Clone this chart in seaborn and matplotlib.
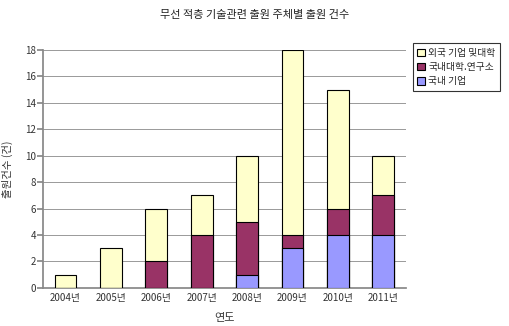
import matplotlib
matplotlib.use("Agg")
import matplotlib.pyplot as plt
import seaborn as sns
import pandas as pd
import numpy as np

years = ["2004년", "2005년", "2006년", "2007년", "2008년", "2009년", "2010년", "2011년"]
domestic = [0, 0, 0, 0, 1, 3, 4, 4]          # 국내 기업
univ = [0, 0, 2, 4, 4, 1, 2, 3]              # 국내대학.연구소
foreign = [1, 3, 4, 3, 5, 14, 9, 3]          # 외국 기업 및대학
series_names = ["외국 기업 및대학", "국내대학.연구소", "국내 기업"]
colors = ["#FFFFCC", "#993366", "#9999FF"]

sns.set_theme(style="white")
plt.rcParams['font.family'] = ['Noto Sans CJK KR', 'DejaVu Sans']

df = pd.DataFrame({"year": years, "dom": domestic, "univ": univ, "for": foreign})
df["l1"] = df["dom"]
df["l2"] = df["dom"] + df["univ"]
df["l3"] = df["l2"] + df["for"]

fig = plt.figure(figsize=(5.1, 3.26), dpi=100)
ax = fig.add_axes([0.084, 0.117, 0.712, 0.73])

for col, c, name in [("l3", colors[0], series_names[0]),
                     ("l2", colors[1], series_names[1]),
                     ("l1", colors[2], series_names[2])]:
    sns.barplot(data=df, x="year", y=col, color=c, saturation=1, width=0.48,
                edgecolor="black", linewidth=0.8, ax=ax, label=name, zorder=3)

ax.set_ylim(0, 18)
ax.set_yticks(np.arange(0, 19, 2))
ax.yaxis.grid(True, color="#999999", linewidth=0.7)
ax.set_axisbelow(True)
for s in ["top", "right"]:
    ax.spines[s].set_visible(False)
ax.spines["left"].set_color("#888888")
ax.spines["bottom"].set_color("#888888")
ax.tick_params(axis="both", labelsize=7, colors="#333333", length=3, direction="out")
ax.tick_params(axis="x", length=0, pad=4)
ax.tick_params(axis="y", left=True, length=4, color="#888888", pad=1)
ax.set_xlabel("연도", fontsize=8, color="#333333", labelpad=7)
ax.set_ylabel("출원건수 (건)", fontsize=7.5, color="#333333")
ax.yaxis.set_label_coords(-0.082, 0.5)
fig.text(0.5, 0.955, "무선 적층 기술관련 출원 주체별 출원 건수", ha="center", va="center",
         fontsize=8, color="#222222")

leg = ax.legend(loc="upper left", bbox_to_anchor=(1.005, 1.05), fontsize=7,
                frameon=True, fancybox=False, edgecolor="black", handlelength=0.8,
                handleheight=0.8, handletextpad=0.3, borderpad=0.5, labelspacing=0.45)
leg.get_frame().set_linewidth(0.8)

fig.savefig("out.png", dpi=100)
